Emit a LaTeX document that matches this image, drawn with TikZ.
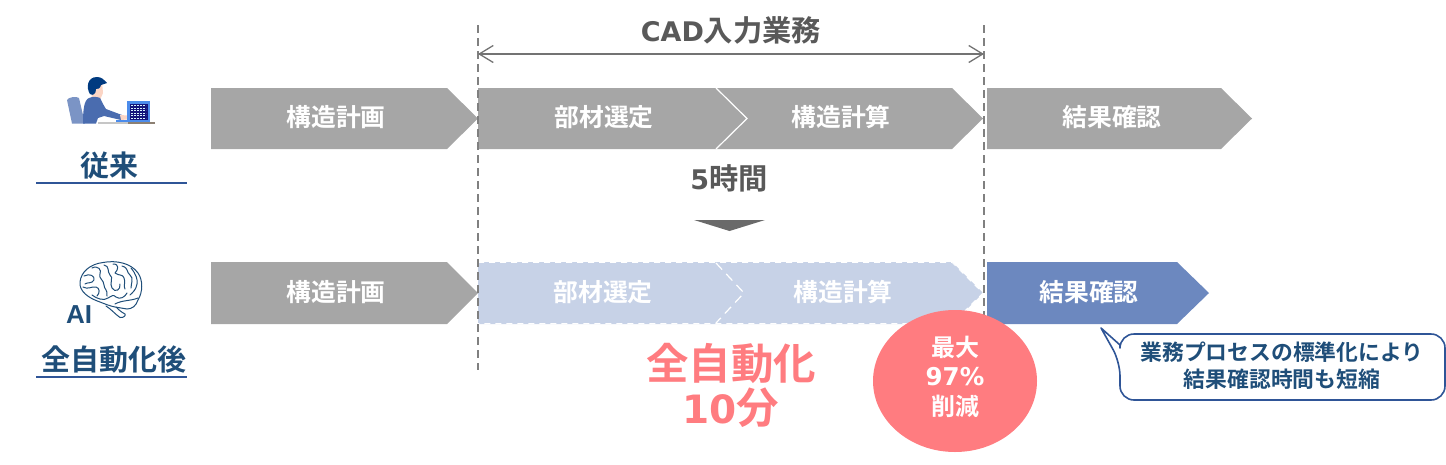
\documentclass[tikz,border=0pt]{standalone}
\usepackage{fontspec}
\setmainfont{Noto Sans CJK JP}[BoldFont={Noto Sans CJK JP Bold}]
\newfontfamily\latinb{DejaVu Sans Bold}
\newfontfamily\aifont{Liberation Sans Bold}
\usetikzlibrary{arrows.meta}
\definecolor{gbar}{HTML}{A6A6A6}
\definecolor{lblue}{HTML}{C7D2E7}
\definecolor{mblue}{HTML}{6C88BF}
\definecolor{navy}{HTML}{1F4E79}
\definecolor{rule}{HTML}{2F5597}
\definecolor{dgray}{HTML}{595959}
\definecolor{salmon}{HTML}{FF7C80}
\definecolor{hair}{HTML}{003A80}
\definecolor{shirt}{HTML}{4A6CAF}
\definecolor{skin}{HTML}{FBD5C5}
\definecolor{lap}{HTML}{4C8CEB}
\definecolor{scr}{HTML}{14147A}
\newcommand{\fs}[1]{\fontsize{#1}{#1}\selectfont}
\tikzset{
  x=1pt,y=-1pt,
  barlabel/.style={text=white,font=\fs{24.8}\bfseries,inner sep=0pt},
  headlabel/.style={text=dgray,font=\fs{29.3}\bfseries,inner sep=0pt},
  rowlabel/.style={text=navy,font=\fs{29}\bfseries,inner sep=0pt},
  vdash/.style={draw=gray,line width=2pt,dash pattern=on 8pt off 5pt},
  rowrule/.style={draw=rule,line width=2pt},
  redlabel/.style={text=salmon,font=\fs{42.5}\bfseries,inner sep=0pt,align=center},
  circlabel/.style={text=white,font=\fs{24}\bfseries,inner sep=0pt},
  brainline/.style={draw=navy,line width=1pt,line cap=round,line join=round},
}
\begin{document}
\begin{tikzpicture}
\useasboundingbox (0,0) rectangle (1446,464);
% guides
\coordinate (gl1) at (478,25); \coordinate (gl2) at (478,370);
\coordinate (gr1) at (984,25); \coordinate (gr2) at (984,345);
% row 1 bars
\fill[gbar] (211,88) -- (447,88) -- (478,118.5) -- (447,149) -- (211,149) -- cycle;
\fill[gbar] (478,88) -- (716,88) -- (747,118.5) -- (716,149) -- (478,149) -- cycle;
\fill[gbar] (716,88) -- (952,88) -- (983,118.5) -- (952,149) -- (716,149) -- (747,118.5) -- cycle;
\draw[white,line width=1.2pt] (716,88) -- (747,118.5) -- (716,149);
\fill[gbar] (987,88) -- (1221,88) -- (1252,118.5) -- (1221,149) -- (987,149) -- cycle;
\node[barlabel] (a1) at (336,117) {構造計画};
\node[barlabel] (a2) at (604,117) {部材選定};
\node[barlabel] (a3) at (841,117) {構造計算};
\node[barlabel] (a4) at (1112,117) {結果確認};
% row 2 bars
\fill[gbar] (211,262) -- (447,262) -- (478,293) -- (447,324) -- (211,324) -- cycle;
\fill[lblue] (478,262) -- (952,262) -- (983,293) -- (952,324) -- (478,324) -- cycle;
\draw[white,line width=1pt,dash pattern=on 6pt off 5pt] (478,262.3) -- (952,262.3) -- (983,293) -- (952,323.7) -- (478,323.7);
\draw[white,line width=1.2pt,dash pattern=on 9pt off 6pt] (716,263) -- (744,293) -- (716,323);
\fill[mblue] (987,262) -- (1177,262) -- (1209,293) -- (1177,324) -- (987,324) -- cycle;
\node[barlabel] (b1) at (336,292) {構造計画};
\node[barlabel] (b2) at (603,292) {部材選定};
\node[barlabel] (b3) at (843,292) {構造計算};
\node[barlabel] (b4) at (1089,292) {結果確認};
% dashed guides and span arrow
\draw[vdash] (gl1) -- (gl2);
\draw[vdash] (gr1) -- (gr2);
\coordinate (sl) at (478,54); \coordinate (sr) at (984,54);
\draw[draw=gray!90!black,line width=1.6pt,{Straight Barb[length=14pt,width=17pt,line width=1.3pt]}-{Straight Barb[length=14pt,width=17pt,line width=1.3pt]}] (sl) -- (sr);
\node[headlabel] (cad) at (731,30) {{\latinb\fs{27}CAD}入力業務};
\node[headlabel] (five) at (729,178) {{\latinb\fs{27}5}時間};
\fill[dgray!90] (694,220) -- (765,220) -- (729.5,231) -- cycle;
% red
\node[redlabel] (auto) at (731,363) {全自動化};
\node[redlabel] (ten) at (731,408) {{\latinb\fs{39}10}分};
\fill[salmon] (955,381) circle[x radius=82,y radius=71];
\node[circlabel] (m1) at (955,347) {最大};
\node[circlabel,font=\latinb\fs{24.5}] (m2) at (955,377) {97\%};
\node[circlabel] (m3) at (955,406) {削減};
% callout
\draw[draw=rule,line width=1.6pt,fill=white,line join=round,rounded corners=14pt]
  (1120,345) -- (1120,334) -- (1445,334) -- (1445,400) -- (1120,400) -- (1120,362)
  [sharp corners] -- (1101,328) -- cycle;
\node[text=navy,font=\fs{21.8}\bfseries,inner sep=0pt,align=center] (note) at (1282,365.5) {業務プロセスの標準化により\\[5pt]結果確認時間も短縮};
% row labels
\node[rowlabel] (old) at (109,166) {従来};
\draw[rowrule] (36,183) -- (187,183);
\node[rowlabel] (new) at (114,360) {全自動化後};
\draw[rowrule] (36,376.5) -- (187,376.5);
\node[text=navy,font=\aifont\fs{26},inner sep=0pt] (ai) at (79,315) {AI};
% person icon
\fill[mblue!90!white] (67,100) .. controls (68,97) and (77,96) .. (79,98) -- (85,123.5) -- (72,123.5) -- cycle;
\fill[skin] (91,88) -- (102,82) -- (103,93) -- (100,100) -- (92,100) -- cycle;
\fill[shirt] (83,123.5) .. controls (83,110) and (84,100) .. (89,98) .. controls (93,96) and (98,97) .. (100,98) .. controls (102,102) and (104,106) .. (106,109) -- (122,115) -- (121,120) -- (104,116) -- (98,118) -- (96,123.5) -- cycle;
\fill[skin] (120,115) -- (128,115.5) -- (132,119) -- (121,120) -- cycle;
\fill[hair] (90,94) .. controls (86,88) and (87,77) .. (97,77) .. controls (102,77) and (104,80) .. (107,83) -- (101,85) .. controls (100,89) and (98,89) .. (96,89) .. controls (96,94) and (93,96) .. (90,94) -- cycle;
\fill[lap] (127,101) rectangle (150,122);
\fill[scr] (130,103.5) rectangle (148,119.5);
\foreach \yy in {105.5,108,110.5,113,115.5,118}{\draw[white!85!cyan,line width=.8pt,dash pattern=on 2pt off 1pt] (131,\yy) -- (146,\yy);}
\fill[gray!45] (98,121.5) rectangle (128,123.7);
\fill[gray!90!orange] (128,121.5) rectangle (155,123.7);
\fill[lap] (116,120) rectangle (128,121.7);
% brain icon
\draw[brainline,fill=white] (100,302) .. controls (88,298) and (79,291) .. (80,282) .. controls (81,272) and (90,264) .. (103,262.5) .. controls (116,260) and (131,263) .. (138,273) .. controls (143,280) and (143,292) .. (138,300) .. controls (136,306) and (132,309) .. (127,309) -- (115,307) .. controls (110,306) and (105,304) .. (100,302) -- cycle;
\draw[brainline] (106,306) .. controls (111,309) and (115,314) .. (120,317.5) .. controls (123,318) and (126,316) .. (125,314) .. controls (121,312) and (118,309) .. (116,307);
\draw[brainline] (115,304) .. controls (122,300) and (131,301) .. (138,298);
\draw[brainline] (84,276) .. controls (90,273) and (95,276) .. (94,280) .. controls (92,284) and (87,282) .. (85,284);
\draw[brainline] (83,287) .. controls (88,290) and (92,286) .. (96,287) .. controls (100,288) and (100,293) .. (97,296);
\draw[brainline] (92,268) .. controls (98,265) and (102,270) .. (100,274) .. controls (98,278) and (104,280) .. (104,285) .. controls (104,289) and (108,290) .. (107,296);
\draw[brainline] (104,265) .. controls (110,266) and (107,272) .. (110,275) .. controls (114,277) and (109,284) .. (112,288) .. controls (115,293) and (121,290) .. (120,284);
\draw[brainline] (113,264) .. controls (120,264) and (118,270) .. (115,273) .. controls (119,276) and (123,274) .. (124,278) .. controls (126,282) and (123,286) .. (125,289);
\draw[brainline] (122,266) .. controls (129,268) and (126,272) .. (130,275) .. controls (134,278) and (131,284) .. (131,288);
\draw[brainline] (131,268) .. controls (136,274) and (138,280) .. (137,284) .. controls (136,290) and (133,292) .. (130,295);
\draw[brainline] (92,295) .. controls (97,299) and (104,301) .. (108,298) .. controls (112,296) and (113,294) .. (116,297) .. controls (120,300) and (125,297) .. (127,293);
\end{tikzpicture}
\end{document}
